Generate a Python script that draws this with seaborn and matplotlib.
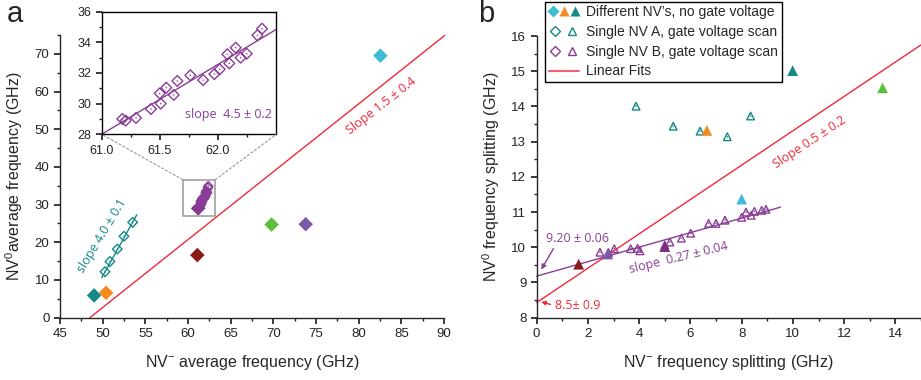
import numpy as np
import pandas as pd
import matplotlib
matplotlib.use("Agg")
import matplotlib.pyplot as plt
import seaborn as sns
from matplotlib.patches import Rectangle, ConnectionPatch
from matplotlib.lines import Line2D
from matplotlib.legend_handler import HandlerTuple
from matplotlib.ticker import MultipleLocator, FormatStrFormatter, FixedLocator

# ---------------- data: panel a ----------------
diff_names = ["teal", "orange", "darkred", "green", "slate", "cyan", "plum"]
diff_colors = ["#138a84", "#f58a1f", "#8b1a1a", "#5cbf3a", "#7a5aa8", "#3dbcd4", "#7b2a80"]
diff_a_x = [49.0, 50.4, 61.1, 69.8, 73.8, 82.55, 61.2]
diff_a_y = [5.9, 6.6, 16.6, 24.7, 24.8, 69.5, 29.0]

nvA_a_x = [50.28, 50.86, 51.72, 52.5, 53.52]
nvA_a_y = [12.2, 14.9, 18.2, 21.6, 25.3]

nvB_a_x = [61.178, 61.207, 61.296, 61.425, 61.509, 61.5, 61.557, 61.621, 61.652, 61.764,
           61.874, 61.971, 62.017, 62.083, 62.1, 62.155, 62.198, 62.25, 62.342, 62.382]
nvB_a_y = [29.0, 28.89, 29.07, 29.65, 30.0, 30.67, 31.04, 30.57, 31.48, 31.85,
           31.54, 31.93, 32.24, 33.22, 32.63, 33.65, 33.0, 33.26, 34.46, 34.89]

# fits panel a
fit_a_all = dict(slope=1.8, x0=48.5, y0=0.0, xmin=48.5, xmax=90.1)
fit_a_A = dict(slope=4.07, x0=49.9, y0=10.6, xmin=49.9, xmax=54.0)
fit_a_B = dict(slope=4.55, x0=61.0, y0=28.0, xmin=61.0, xmax=62.506)

# ---------------- data: panel b ----------------
diff_b_x = [9.99, 6.64, 1.64, 13.5, 2.77, 8.0, 5.0]
diff_b_y = [15.02, 13.32, 9.52, 14.53, 9.81, 11.37, 10.02]

nvA_b_x = [3.88, 5.33, 6.38, 7.44, 8.35]
nvA_b_y = [14.01, 13.44, 13.30, 13.14, 13.73]

nvB_b_x = [2.47, 2.80, 3.03, 3.67, 3.94, 4.03, 5.0, 5.2, 5.65, 6.01,
           6.71, 7.0, 7.35, 8.0, 8.17, 8.37, 8.50, 8.78, 8.95]
nvB_b_y = [9.86, 9.85, 9.96, 9.96, 9.97, 9.90, 10.06, 10.15, 10.26, 10.40,
           10.68, 10.68, 10.77, 10.85, 11.0, 10.91, 11.02, 11.05, 11.08]

fit_b_all = dict(slope=0.488, x0=0.0, y0=8.43, xmin=0.0, xmax=15.0)
fit_b_B = dict(slope=0.206, x0=0.0, y0=9.18, xmin=0.0, xmax=9.52)

inset_xticks = [61.0, 61.5, 62.0]
inset_xminor = [61.25, 61.75, 62.25]

TEAL = "#138a84"
PURPLE = "#8a3d96"
RED = "#f0283a"

# ---------------- style ----------------
sns.set_theme(style="ticks")
plt.rcParams["font.family"] = ["Liberation Sans", "DejaVu Sans"]
plt.rcParams["mathtext.default"] = "regular"
plt.rcParams["axes.linewidth"] = 1.0
plt.rcParams["xtick.major.size"] = 4
plt.rcParams["ytick.major.size"] = 4
plt.rcParams["xtick.minor.size"] = 2.5
plt.rcParams["ytick.minor.size"] = 2.5
plt.rcParams["xtick.color"] = "#222222"
plt.rcParams["ytick.color"] = "#222222"
ANN = ["Open Sans", "DejaVu Sans"]

fig = plt.figure(figsize=(9.21, 3.80), dpi=100)
ax = fig.add_axes([0.0651, 0.164, 0.4169, 0.744])
bx = fig.add_axes([0.5827, 0.164, 0.4173, 0.741])
ins = fig.add_axes([0.1104, 0.6466, 0.1896, 0.3226])


def fit_line(axis, f, color, lw=1.0):
    xs = np.array([f["xmin"], f["xmax"]])
    ys = f["y0"] + f["slope"] * (xs - f["x0"])
    axis.plot(xs, ys, color=color, lw=lw, zorder=2, clip_on=False)


def open_pts(axis, x, y, marker, color, s=30):
    sns.scatterplot(x=x, y=y, marker=marker, s=s, color=color, facecolor="none",
                    edgecolor=color, linewidth=1.0, ax=axis, legend=False, zorder=4)
    sns.scatterplot(x=x, y=y, marker="o", s=1.2, color=color, edgecolor="none",
                    ax=axis, legend=False, zorder=4)


def filled_pts(axis, x, y, marker, s=55, z=5):
    df = pd.DataFrame({"x": x, "y": y, "g": diff_names})
    sns.scatterplot(data=df, x="x", y="y", hue="g", palette=dict(zip(diff_names, diff_colors)),
                    marker=marker, s=s, edgecolor="none", ax=axis, legend=False, zorder=z)


# ---------------- panel a ----------------
fit_line(ax, fit_a_all, RED)
fit_line(ax, fit_a_A, TEAL)
fit_b_in_main = dict(fit_a_B, xmin=61.15, xmax=62.4)
fit_line(ax, fit_b_in_main, PURPLE)
filled_pts(ax, diff_a_x, diff_a_y, "D", z=3)
open_pts(ax, nvA_a_x, nvA_a_y, "D", TEAL, s=24)
open_pts(ax, nvB_a_x, nvB_a_y, "D", PURPLE, s=22)

ax.set_xlim(45, 90)
ax.set_ylim(0, 75)
ax.xaxis.set_major_locator(MultipleLocator(5))
ax.xaxis.set_minor_locator(MultipleLocator(2.5))
ax.yaxis.set_major_locator(FixedLocator(list(range(0, 71, 10))))
ax.yaxis.set_minor_locator(MultipleLocator(5))
sns.despine(ax=ax)
ax.tick_params(labelsize=9.5)
ax.set_xlabel("NV$^{-}$ average frequency (GHz)", fontsize=11.5, labelpad=9)
ax.set_ylabel("NV$^{0}$average frequency (GHz)", fontsize=11.5, labelpad=7)

ax.add_patch(Rectangle((59.4, 27.1), 3.8, 9.5, fill=False, edgecolor="#a0a0a0", lw=1.2, zorder=6))

ax.text(82.7, 56.3, "Slope 1.5 ± 0.4", color=RED, rotation=38, ha="center", va="center",
        fontsize=9, family=ANN)
ax.text(49.95, 21.6, "slope 4.0 ± 0.1", color=TEAL, rotation=59, ha="center", va="center",
        fontsize=9, family=ANN)

# inset
fit_line(ins, fit_a_B, PURPLE)
open_pts(ins, nvB_a_x, nvB_a_y, "D", PURPLE, s=30)
ins.set_xlim(61.0, 62.505)
ins.set_ylim(28, 36)
ins.xaxis.set_major_locator(FixedLocator(inset_xticks))
ins.xaxis.set_minor_locator(FixedLocator(inset_xminor))
ins.yaxis.set_major_locator(MultipleLocator(2))
ins.yaxis.set_minor_locator(MultipleLocator(1))
ins.xaxis.set_major_formatter(FormatStrFormatter("%.1f"))
ins.tick_params(labelsize=9, which="both", top=False, right=False)
ins.set_facecolor("white")
for sp in ins.spines.values():
    sp.set_color("black")
ins.text(61.72, 29.26, "slope  4.5 ± 0.2", color=PURPLE, ha="left", va="center",
         fontsize=9, family=ANN)

for xa, xb in [(59.4, 61.0), (63.2, 62.505)]:
    con = ConnectionPatch(xyA=(xa, 36.6), coordsA=ax.transData, xyB=(xb, 28),
                          coordsB=ins.transData, linestyle=(0, (2, 2)), color="#999999", lw=0.8)
    fig.add_artist(con)

# ---------------- panel b ----------------
fit_line(bx, fit_b_all, RED)
fit_line(bx, fit_b_B, PURPLE)
open_pts(bx, nvA_b_x, nvA_b_y, "^", TEAL, s=30)
open_pts(bx, nvB_b_x, nvB_b_y, "^", PURPLE, s=30)
filled_pts(bx, diff_b_x, diff_b_y, "^", s=60)

bx.set_xlim(0, 15)
bx.set_ylim(8, 16)
bx.xaxis.set_major_locator(FixedLocator(list(range(0, 15, 2))))
bx.xaxis.set_minor_locator(MultipleLocator(1))
bx.yaxis.set_major_locator(MultipleLocator(1))
bx.yaxis.set_minor_locator(MultipleLocator(0.5))
sns.despine(ax=bx)
bx.tick_params(labelsize=9.5)
bx.set_xlabel("NV$^{-}$ frequency splitting (GHz)", fontsize=11.5, labelpad=9)
bx.set_ylabel("NV$^{0}$ frequency splitting (GHz)", fontsize=11.5, labelpad=7)

bx.text(10.65, 12.98, "Slope 0.5 ± 0.2", color=RED, rotation=33.5, ha="center", va="center",
        fontsize=9, family=ANN)
bx.text(5.54, 9.69, "slope  0.27 ± 0.04", color=PURPLE, rotation=13.6, ha="center", va="center",
        fontsize=9, family=ANN)
bx.annotate("9.20 ± 0.06", xy=(0.18, 9.37), xytext=(0.36, 10.24), color=PURPLE,
            ha="left", va="center", fontsize=9, family=ANN,
            arrowprops=dict(arrowstyle="-|>", color=PURPLE, lw=1.0, mutation_scale=7,
                            shrinkA=0, shrinkB=0, relpos=(0.15, 0.0)))
bx.annotate("8.5± 0.9", xy=(0.18, 8.45), xytext=(0.72, 8.34), color=RED,
            ha="left", va="center", fontsize=9, family=ANN,
            arrowprops=dict(arrowstyle="-|>", color=RED, lw=1.0, mutation_scale=6,
                            shrinkA=1, shrinkB=0, relpos=(0.0, 0.5)))

# legend
h1 = tuple(Line2D([], [], ls="none", marker=m, ms=6.5, color=c, mec="none")
           for m, c in [("D", "#3dbcd4"), ("^", "#f58a1f"), ("^", TEAL)])
h2 = tuple(Line2D([], [], ls="none", marker=m, ms=5.5, mfc="none", mec=TEAL, mew=1.0)
           for m in ["D", "^"])
h3 = tuple(Line2D([], [], ls="none", marker=m, ms=5.5, mfc="none", mec=PURPLE, mew=1.0)
           for m in ["D", "^"])
h4 = Line2D([], [], color="#f06070", lw=1.5)
leg = fig.legend([h1, h2, h3, h4],
                 ["Different NV\u2019s, no gate voltage", "Single NV A, gate voltage scan",
                  "Single NV B, gate voltage scan", "Linear Fits"],
                 handler_map={tuple: HandlerTuple(ndivide=None, pad=0.25)},
                 loc="upper left", bbox_to_anchor=(0.592, 0.996), frameon=True,
                 fancybox=False, edgecolor="black", framealpha=1, fontsize=10,
                 handlelength=2.2, labelspacing=0.42, borderpad=0.25, handletextpad=0.5,
                 borderaxespad=0)
leg.get_frame().set_linewidth(1.0)

fig.text(0.007, 0.942, "a", fontsize=21, va="baseline", ha="left")
fig.text(0.519, 0.942, "b", fontsize=21, va="baseline", ha="left")

fig.savefig("out.png", dpi=100)
